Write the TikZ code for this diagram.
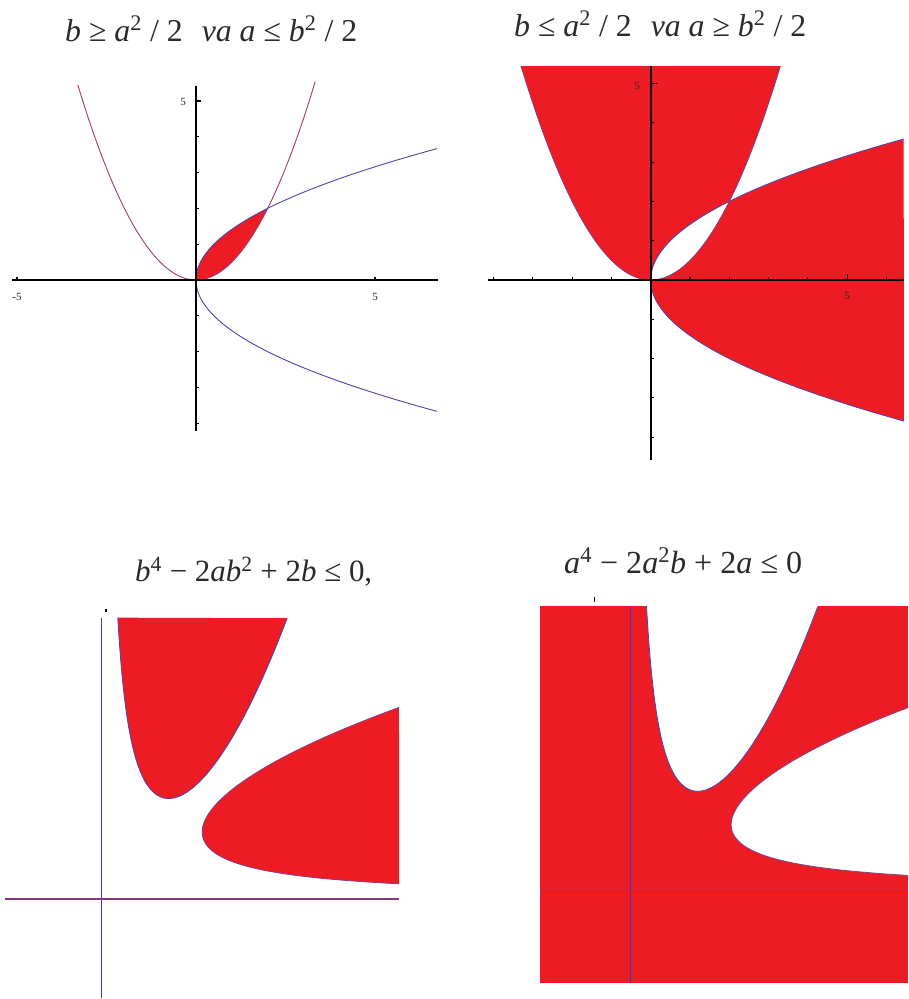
\documentclass[tikz,border=0pt]{standalone}
\usepackage{fontspec}
\setmainfont{Liberation Serif}
\usepackage{graphicx}
\definecolor{pred}{HTML}{ED1C24}
\definecolor{pblue}{HTML}{4646AA}
\definecolor{lineblue}{HTML}{3C3CC0}
\definecolor{ppurp}{HTML}{9C3C72}
\definecolor{hpurp}{HTML}{8A3480}
\definecolor{ptext}{HTML}{2A2A2A}
\tikzset{
  axisline/.style={black, line width=1.6pt},
  tickmark/.style={black, line width=1.1pt},
  curveblue/.style={pblue, line width=0.9pt},
  curvepurp/.style={ppurp, line width=0.9pt},
  edgeblue/.style={pblue, line width=0.8pt},
  edgepurp/.style={ppurp!70!pblue, line width=0.8pt},
  vline/.style={lineblue, line width=1.2pt},
  hline/.style={hpurp, line width=1.3pt},
  titletext/.style={anchor=base west, inner sep=0pt, text=ptext, font=\fontsize{28}{30}\selectfont},
  ticklabel/.style={inner sep=0pt, text=ptext, font=\fontsize{11}{11}\selectfont}
}
\begin{document}
\begin{tikzpicture}[x=1pt,y=1pt]
\useasboundingbox (0,0) rectangle (908,-999);

% ---------- titles ----------
\node[titletext] (title1) at (65,-41) {\resizebox{292pt}{!}{\textit{b} ≥ \textit{a}\textsuperscript{2} / 2\hspace{0.6em}\textit{va a} ≤ \textit{b}\textsuperscript{2} / 2}};
\node[titletext] (title2) at (514,-36) {\resizebox{292pt}{!}{\textit{b} ≤ \textit{a}\textsuperscript{2} / 2\hspace{0.6em}\textit{va a} ≥ \textit{b}\textsuperscript{2} / 2}};
\node[titletext] (title3) at (135,-581.7) {\resizebox{237pt}{!}{\textit{b}\textsuperscript{4} − 2\textit{ab}\textsuperscript{2} + 2\textit{b} ≤ 0,}};
\node[titletext] (title4) at (564,-573) {\resizebox{238pt}{!}{\textit{a}\textsuperscript{4} − 2\textit{a}\textsuperscript{2}\textit{b} + 2\textit{a} ≤ 0}};

% ---------- panel 1 ----------
\begin{scope}[shift={(196,-280)}, x=35.8pt, y=35.8pt]
  \fill[pred] plot[domain=0:2, samples=80] ({\x*\x/2},\x) -- plot[domain=2:0, samples=80] (\x,{\x*\x/2}) -- cycle;
  \draw[curvepurp] plot[domain=-3.3:3.33, samples=140] (\x,{\x*\x/2});
  \draw[curveblue] plot[domain=-3.67:3.67, samples=180] ({\x*\x/2},\x);
  \draw[axisline] (-5.15,0) -- (6.76,0);
  \draw[axisline] (0,-4.22) -- (0,5.42);
  \foreach \k in {-4,-3,-2,-1,1,2,3,4} \draw[tickmark] (0,\k) -- ++(3pt,0);
  \draw[tickmark] (0,5) -- ++(5pt,0);
  \draw[tickmark] (-5,0) -- ++(0,3pt);
  \draw[tickmark] (5,0) -- ++(0,3pt);
\end{scope}
\node[ticklabel] (l1a) at (183,-102) {5};
\node[ticklabel] (l1b) at (17,-297) {-5};
\node[ticklabel] (l1c) at (375,-297) {5};

% ---------- panel 2 ----------
\begin{scope}[shift={(650.7,-280)}, x=39.3pt, y=39.3pt]
  \fill[pred, even odd rule]
    plot[domain=-3.30:3.30, samples=140] (\x,{\x*\x/2}) -- cycle
    plot[domain=-3.59:3.59, samples=180] ({\x*\x/2},\x) -- cycle;
  \draw[edgepurp] plot[domain=-3.30:3.30, samples=140] (\x,{\x*\x/2});
  \draw[edgeblue] plot[domain=-3.59:3.59, samples=180] ({\x*\x/2},\x);
  \draw[axisline] (-4.15,0) -- (6.45,0);
  \draw[axisline] (0,-4.58) -- (0,5.44);
  \foreach \k in {-4,-3,-2,-1,1,2,3,4,6} \draw[tickmark] (\k,0) -- ++(0,3pt);
  \draw[tickmark] (5,0) -- ++(0,6pt);
  \foreach \k in {-4,-3,-2,-1,1,2,3,4} \draw[tickmark] (0,\k) -- ++(3pt,0);
  \draw[tickmark] (0,5) -- ++(6pt,0);
\end{scope}
\node[ticklabel] (l2a) at (637,-86) {5};
\node[ticklabel] (l2b) at (847,-296) {5};

% ---------- panel 3 ----------
\begin{scope}[shift={(101.7,-899)}, x=67pt, y=67pt]
  \fill[pred] plot[domain=0.2398:2.771, samples=300] (\x,{\x*\x/2+1/\x}) -- cycle;
  \fill[pred] plot[domain=0.2265:2.859, samples=300] ({\x*\x/2+1/\x},\x) -- cycle;
  \draw[edgeblue] plot[domain=0.2398:2.771, samples=300] (\x,{\x*\x/2+1/\x});
  \draw[edgepurp] plot[domain=0.2265:2.859, samples=300] ({\x*\x/2+1/\x},\x);
  \draw[vline] (0,-1.48) -- (0,4.2);
  \draw[hline] (-1.44,0) -- (4.437,0);
\end{scope}
\fill[black] (105.3,-608.5) rectangle (106.8,-611.5);

% ---------- panel 4 ----------
\begin{scope}[shift={(630.7,-891.7)}, x=67pt, y=67pt]
  \fill[pred] (-1.36,-1.36) rectangle (4.139,4.264);
  \fill[white] plot[domain=0.236:2.795, samples=300] (\x,{\x*\x/2+1/\x}) -- (2.80,4.32) -- (0.236,4.32) -- cycle;
  \fill[white] plot[domain=0.2434:2.748, samples=300] ({\x*\x/2+1/\x},\x) -- (4.2,2.748) -- (4.2,0.2434) -- cycle;
  \draw[edgeblue] plot[domain=0.236:2.795, samples=300] (\x,{\x*\x/2+1/\x});
  \draw[edgepurp] plot[domain=0.2434:2.748, samples=300] ({\x*\x/2+1/\x},\x);
  \draw[vline] (0,-1.36) -- (0,4.264);
  \draw[hline] (-1.36,0) -- (4.139,0);
\end{scope}
\fill[black] (594.2,-596.5) rectangle (595.4,-601.5);
\end{tikzpicture}
\end{document}
